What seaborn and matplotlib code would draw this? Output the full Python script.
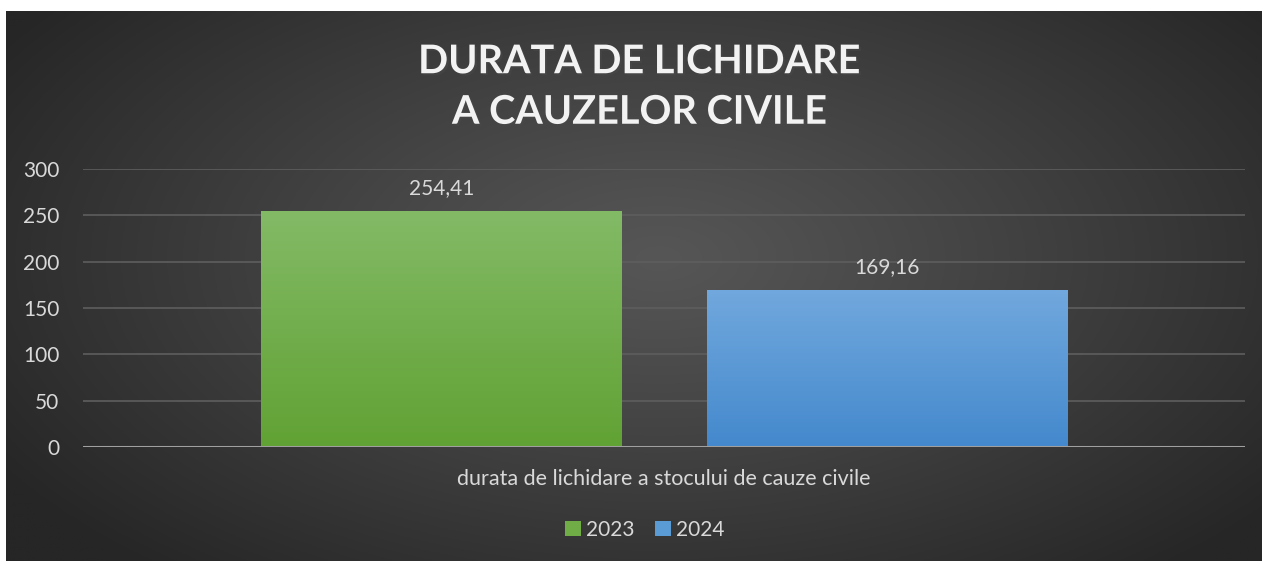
import numpy as np
import pandas as pd
import matplotlib
matplotlib.use("Agg")
import matplotlib.pyplot as plt
import matplotlib.patheffects as pe
from matplotlib.colors import LinearSegmentedColormap
from matplotlib.patches import Patch
import seaborn as sns

# ---- data ----
categories = ["durata de lichidare a stocului de cauze civile"]
years = ["2023", "2024"]
values = [254.41, 169.16]
value_labels = ["254,41", "169,16"]
y_ticks = [0, 50, 100, 150, 200, 250, 300]
title = "DURATA DE LICHIDARE\nA CAUZELOR CIVILE"

df = pd.DataFrame({"cat": categories * len(years), "year": years, "value": values})

# ---- style ----
sns.set_theme(style="dark")
plt.rcParams["font.family"] = ["Lato", "DejaVu Sans"]
txt = "#D9D9D9"

W, H = 1262, 561
fig = plt.figure(figsize=(W / 100, H / 100), dpi=100)
fig.patch.set_facecolor("white")

# radial gradient background
bg = fig.add_axes([6 / W, 0, 1 - 6 / W, 1 - 11 / H])
bg.set_axis_off()
yy, xx = np.mgrid[0:1:300j, 0:1:600j]
r = np.sqrt(((xx - 0.52) / 0.62) ** 2 + ((yy - 0.45) / 0.75) ** 2)
r = np.clip(r, 0, 1)
c0, c1 = 0x56 / 255, 0x26 / 255
img = c0 + (c1 - c0) * r ** 1.1
bg.imshow(np.dstack([img, img, img]), aspect="auto", extent=[0, 1, 0, 1])
bg.set_xlim(0, 1); bg.set_ylim(0, 1)

# main axes
ax = fig.add_axes([83 / W, 1 - 447 / H, (1245 - 83) / W, (447 - 169) / H])
ax.patch.set_alpha(0)

green_mid = "#70AD47"
blue_mid = "#5B9BD5"
sns.barplot(data=df, x="cat", y="value", hue="year", palette=[green_mid, blue_mid],
            width=0.766, gap=0.191, ax=ax, legend=False, zorder=3, linewidth=0)

ax.set_xlim(-0.5, 0.5)
ax.set_ylim(0, 300)
ax.set_yticks(y_ticks)
ax.set_xlabel(""); ax.set_ylabel("")
for s in ax.spines.values():
    s.set_visible(False)
ax.grid(False)
for t in y_ticks[1:]:
    ax.axhline(t, color="#5E5E5E", lw=1.2, zorder=1)
ax.axhline(0, color="#A0A0A0", lw=2.2, zorder=5)

ax.tick_params(axis="y", length=0, pad=17, labelsize=15, labelcolor=txt)
ax.tick_params(axis="x", length=0, pad=16, labelsize=15.5, labelcolor=txt)

# gradient fills
grads = [("#83BA66", "#61A234"), ("#71A8DD", "#4489CD")]
bars = [p for p in ax.patches if p.get_height() > 0]
bars.sort(key=lambda p: p.get_x())
for p, (top, bot), lab in zip(bars, grads, value_labels):
    x0, w, h = p.get_x(), p.get_width(), p.get_height()
    p.set_edgecolor("none")
    cmap = LinearSegmentedColormap.from_list("g", [bot, top])
    grad = np.linspace(1, 0, 256).reshape(-1, 1)
    p.set_path_effects([pe.SimplePatchShadow(offset=(0, 0), shadow_rgbFace="black", alpha=0.35), pe.Normal()])
    ax.imshow(grad, cmap=cmap, aspect="auto", extent=[x0, x0 + w, 0, h], zorder=4, vmin=0, vmax=1)
    ax.text(x0 + w / 2, h + 14, lab, ha="center", va="bottom", fontsize=15, color=txt, zorder=6)
ax.set_xlim(-0.5, 0.5)
ax.set_ylim(0, 300)

# title
fig.text(640 / W, 1 - 87 / H, title, ha="center", va="center", fontsize=28.5, fontweight="bold",
         color="#F2F2F2", linespacing=1.45,
         path_effects=[pe.withSimplePatchShadow(offset=(1.5, -1.5), alpha=0.5)])

# legend
handles = [Patch(facecolor=green_mid, edgecolor="none"), Patch(facecolor=blue_mid, edgecolor="none")]
leg = fig.legend(handles, years, loc="center", bbox_to_anchor=(645 / W, 1 - 530 / H), ncol=2,
                 frameon=False, fontsize=15, labelcolor=txt, handlelength=0.75, handleheight=0.75,
                 handletextpad=0.25, columnspacing=1.0)

fig.savefig("out.png", dpi=100, facecolor="white")
